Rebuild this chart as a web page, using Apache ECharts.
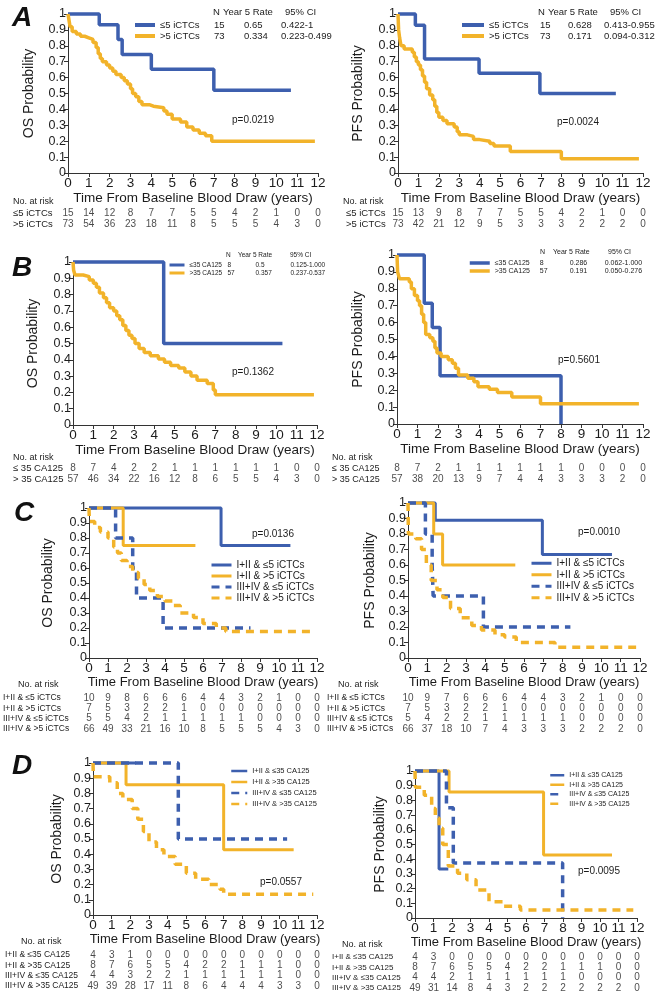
<!DOCTYPE html>
<html><head><meta charset="utf-8">
<script src="https://cdn.jsdelivr.net/npm/echarts@6/dist/echarts.min.js"></script>
<style>html,body{margin:0;padding:0;background:#fff}#c{width:655px;height:1000px}</style>
</head><body><div id="c"></div>
<script>
// ---------- DATA ----------
const riskTimes = [0,1,2,3,4,5,6,7,8,9,10,11,12];

// Panel A (iCTCs)
const osA_le5 = [[0,1],[1.5,0.933],[2.4,0.84],[2.6,0.745],[4.0,0.652],[7.0,0.52],[10.7,0.52]];
const osA_gt5 = [[0,1],[0.05,0.96],[0.1,0.92],[0.2,0.89],[0.4,0.875],[0.6,0.86],[0.8,0.85],[1.0,0.84],[1.2,0.82],[1.35,0.79],[1.45,0.75],[1.55,0.72],[1.65,0.70],[1.85,0.68],[2.0,0.66],[2.15,0.64],[2.3,0.62],[2.55,0.60],[2.7,0.58],[2.85,0.56],[3.0,0.53],[3.1,0.50],[3.25,0.48],[3.4,0.45],[3.55,0.43],[3.9,0.42],[4.1,0.41],[4.6,0.39],[4.75,0.37],[5.0,0.34],[5.4,0.32],[5.7,0.29],[6.0,0.27],[6.3,0.25],[6.6,0.235],[6.9,0.2],[11.85,0.2]];
const pfsA_le5 = [[0,1],[0.85,0.93],[1.3,0.717],[3.97,0.628],[6.95,0.5],[10.67,0.5]];
const pfsA_gt5 = [[0,1],[0.03,0.9],[0.08,0.85],[0.15,0.8],[0.3,0.78],[0.7,0.76],[0.8,0.73],[0.9,0.7],[1.0,0.68],[1.1,0.65],[1.2,0.61],[1.3,0.57],[1.4,0.53],[1.55,0.49],[1.7,0.46],[1.8,0.42],[1.9,0.38],[2.0,0.35],[2.2,0.33],[2.4,0.31],[2.75,0.29],[2.9,0.26],[3.0,0.24],[3.4,0.23],[3.7,0.21],[4.0,0.2],[4.5,0.185],[4.7,0.17],[5.5,0.135],[8.0,0.09],[11.8,0.09]];

// Panel B (CA125)
const osB_le35 = [[0,1],[4.46,0.5],[10.3,0.5]];
const osB_gt35 = [[0,1],[0.03,0.95],[0.1,0.92],[0.5,0.91],[0.8,0.89],[1.0,0.87],[1.15,0.845],[1.3,0.81],[1.5,0.78],[1.65,0.75],[1.8,0.72],[2.0,0.7],[2.15,0.67],[2.3,0.645],[2.45,0.61],[2.6,0.58],[2.75,0.55],[2.9,0.53],[3.05,0.5],[3.25,0.47],[3.5,0.445],[3.8,0.425],[4.2,0.405],[4.5,0.385],[4.8,0.365],[5.2,0.35],[5.5,0.325],[5.8,0.3],[6.1,0.275],[6.6,0.255],[6.9,0.215],[7.0,0.185],[11.85,0.185]];
const pfsB_le35 = [[0,1],[1.33,0.714],[1.72,0.571],[2.1,0.286],[8.0,0]];
const pfsB_gt35 = [[0,1],[0.03,0.9],[0.12,0.86],[0.6,0.84],[0.7,0.8],[0.85,0.76],[1.0,0.73],[1.1,0.7],[1.2,0.65],[1.3,0.6],[1.4,0.53],[1.6,0.51],[1.75,0.49],[1.85,0.45],[1.95,0.42],[2.15,0.4],[2.5,0.38],[2.7,0.36],[2.85,0.33],[3.0,0.29],[3.45,0.27],[3.75,0.25],[3.95,0.22],[4.5,0.205],[4.9,0.187],[5.6,0.16],[7.0,0.12],[11.8,0.12]];

// Panel C (stage & iCTCs)
const osC_12le = [[0,1],[6.95,0.75],[10.6,0.75]];
const osC_12gt = [[0,1],[1.8,0.75],[5.6,0.75]];
const osC_34le = [[0,1],[1.4,0.8],[2.3,0.6],[2.5,0.4],[3.9,0.2],[8.5,0.2]];
const osC_34gt = [[0,1],[0.02,0.91],[0.3,0.87],[0.6,0.84],[1.0,0.8],[1.3,0.74],[1.5,0.7],[1.7,0.65],[2.0,0.61],[2.3,0.57],[2.6,0.53],[2.9,0.49],[3.2,0.45],[3.6,0.41],[4.0,0.38],[4.4,0.35],[4.8,0.3],[5.5,0.27],[6.0,0.23],[6.7,0.2],[7.2,0.177],[11.7,0.177]];
const pfsC_12le = [[0,1],[1.41,0.889],[6.95,0.667],[10.55,0.667]];
const pfsC_12gt = [[0,1],[1.33,0.8],[1.79,0.6],[5.55,0.6]];
const pfsC_34le = [[0,1],[0.9,0.8],[1.25,0.6],[1.3,0.4],[3.9,0.2],[8.4,0.2]];
const pfsC_34gt = [[0,1],[0.02,0.8],[0.4,0.77],[0.7,0.7],[0.95,0.6],[1.2,0.5],[1.5,0.44],[1.8,0.39],[2.2,0.32],[2.7,0.26],[3.3,0.21],[3.8,0.18],[4.5,0.15],[5.0,0.135],[5.6,0.1],[7.6,0.07],[11.8,0.07]];

// Panel D (stage & CA125)
const osD_12le = [[0,1],[2.3,1]];
const osD_12gt = [[0,1],[1.77,0.857],[7.0,0.429],[10.75,0.429]];
const osD_34le = [[0,1],[4.57,0.5],[10.4,0.5]];
const osD_34gt = [[0,1],[0.02,0.91],[0.9,0.87],[1.3,0.8],[1.6,0.76],[2.1,0.7],[2.4,0.63],[2.7,0.55],[3.0,0.48],[3.4,0.43],[3.8,0.385],[4.4,0.334],[5.0,0.275],[5.5,0.235],[6.2,0.2],[6.8,0.17],[7.0,0.136],[11.8,0.136]];
const pfsD_12le = [[0,1],[1.3,0.333],[1.8,0.333]];
const pfsD_12gt = [[0,1],[1.84,0.857],[6.95,0.429],[10.65,0.429]];
const pfsD_34le = [[0,1],[1.7,0.75],[2.07,0.375],[7.98,0]];
const pfsD_34gt = [[0,1],[0.02,0.89],[0.5,0.835],[0.9,0.745],[1.1,0.68],[1.3,0.61],[1.5,0.5],[1.8,0.354],[2.3,0.305],[2.8,0.26],[3.3,0.19],[4.0,0.11],[4.8,0.08],[5.7,0.055],[11.8,0.055]];

// Numbers at risk
const riskOsA_le5 = [15,14,12,8,7,7,5,5,4,2,1,0,0];
const riskOsA_gt5 = [73,54,36,23,18,11,8,5,5,5,4,3,0];
const riskPfsA_le5 = [15,13,9,8,7,7,5,5,4,2,1,0,0];
const riskPfsA_gt5 = [73,42,21,12,9,5,3,3,3,2,2,2,0];
const riskOsB_le35 = [8,7,4,2,2,1,1,1,1,1,1,0,0];
const riskOsB_gt35 = [57,46,34,22,16,12,8,6,5,5,4,3,0];
const riskPfsB_le35 = [8,7,2,1,1,1,1,1,1,0,0,0,0];
const riskPfsB_gt35 = [57,38,20,13,9,7,4,4,3,3,3,2,0];
const riskOsC_12le = [10,9,8,6,6,6,4,4,3,2,1,0,0];
const riskOsC_12gt = [7,5,3,2,2,1,0,0,0,0,0,0,0];
const riskOsC_34le = [5,5,4,2,1,1,1,1,1,0,0,0,0];
const riskOsC_34gt = [66,49,33,21,16,10,8,5,5,5,4,3,0];
const riskPfsC_12le = [10,9,7,6,6,6,4,4,3,2,1,0,0];
const riskPfsC_12gt = [7,5,3,2,2,1,0,0,0,0,0,0,0];
const riskPfsC_34le = [5,4,2,2,1,1,1,1,1,0,0,0,0];
const riskPfsC_34gt = [66,37,18,10,7,4,3,3,3,2,2,2,0];
const riskOsD_12le = [4,3,1,0,0,0,0,0,0,0,0,0,0];
const riskOsD_12gt = [8,7,6,5,5,4,2,2,1,1,1,0,0];
const riskOsD_34le = [4,4,3,2,2,1,1,1,1,1,1,0,0];
const riskOsD_34gt = [49,39,28,17,11,8,6,4,4,4,3,3,0];
const riskPfsD_12le = [4,3,0,0,0,0,0,0,0,0,0,0,0];
const riskPfsD_12gt = [8,7,6,5,5,4,2,2,1,1,1,0,0];
const riskPfsD_34le = [4,4,2,1,1,1,1,1,1,0,0,0,0];
const riskPfsD_34gt = [49,31,14,8,4,3,2,2,2,2,2,2,0];

// Group names and summary stats
const namesA = ['≤5 iCTCs', '>5 iCTCs'];
const namesB = ['≤35 CA125', '>35 CA125'];
const riskNamesB = ['≤ 35 CA125', '> 35 CA125'];
const namesC = ['I+II & ≤5 iCTCs', 'I+II & >5 iCTCs', 'III+IV & ≤5 iCTCs', 'III+IV & >5 iCTCs'];
const namesD = ['I+II & ≤35 CA125', 'I+II & >35 CA125', 'III+IV & ≤35 CA125', 'III+IV & >35 CA125'];
const statsOsA = [['15','0.65','0.422-1'],['73','0.334','0.223-0.499']];
const statsPfsA = [['15','0.628','0.413-0.955'],['73','0.171','0.094-0.312']];
const statsOsB = [['8','0.5','0.125-1.000'],['57','0.357','0.237-0.537']];
const statsPfsB = [['8','0.286','0.062-1.000'],['57','0.191','0.050-0.276']];
const pValues = ['p=0.0219','p=0.0024','p=0.1362','p=0.5601','p=0.0136','p=0.0010','p=0.0557','p=0.0095'];
const statsHeader = ['N','Year 5 Rate','95% CI'];

// ---------- STYLE / LAYOUT ----------
const BLUE = '#3d5fae', ORANGE = '#f2b32a', INK = '#1c1c1c';
const FONT = '"Liberation Sans", Arial, sans-serif';
const XNAME = 'Time From Baseline Blood Draw (years)';

const panels = [
 {letter:'A', letterPos:[12,18], plot:[68,14,250,159], table:[208,22], rowX:13, rowFs:9.5, noRisk:[13,202], yName:'OS Probability', yGap:32, lw:3.5,
  curves:[[osA_le5,BLUE,false],[osA_gt5,ORANGE,false]], names:namesA, rows:[[namesA[0],riskOsA_le5],[namesA[1],riskOsA_gt5]],
  p:[232,120], lg:{left:133,top:19.5,iw:20,ih:8,lw:4,fs:9.5,lh:11,w:[54,30,37],stats:statsOsA,hdr:[12,213,223,285]}},
 {plot:[398,14,245,159], table:[208,22], rowX:346, rowFs:9.5, noRisk:[343,202], yName:'PFS Probability', yGap:33, lw:3.5,
  curves:[[pfsA_le5,BLUE,false],[pfsA_gt5,ORANGE,false]], names:namesA, rows:[[namesA[0],riskPfsA_le5],[namesA[1],riskPfsA_gt5]],
  p:[557,122], lg:{left:460,top:19.5,iw:22,ih:8,lw:4,fs:9.5,lh:11,w:[51,28,36],stats:statsPfsA,hdr:[12,538,548,610]}},
 {letter:'B', letterPos:[12,268], plot:[73,262,244,163], table:[463,22], rowX:13, rowFs:9.5, noRisk:[13,458], yName:'OS Probability', yGap:33, lw:3.5,
  curves:[[osB_le35,BLUE,false],[osB_gt35,ORANGE,false]], names:namesB, rows:[[riskNamesB[0],riskOsB_le35],[riskNamesB[1],riskOsB_gt35]],
  p:[232,372], lg:{left:168,top:261,iw:15,ih:5,lw:3,fs:6.5,lh:8,w:[38,28,35],stats:statsOsB,hdr:[255,226,238,290],hfs:6.5}},
 {plot:[397,255,246,169], table:[463,22], rowX:332, rowFs:9, noRisk:[332,458], yName:'PFS Probability', yGap:32, lw:3.5,
  curves:[[pfsB_le35,BLUE,false],[pfsB_gt35,ORANGE,false]], names:namesB, rows:[[riskNamesB[0],riskPfsB_le35],[riskNamesB[1],riskPfsB_gt35]],
  p:[558,360], lg:{left:468,top:259,iw:20,ih:5,lw:3.5,fs:7,lh:8,w:[45,30,35],stats:statsPfsB,hdr:[252,540,553,608],hfs:7}},
 {letter:'C', letterPos:[14,513], plot:[89,508,228,150], table:[693,41], rowX:3, rowFs:8.5, noRisk:[18,685], yName:'OS Probability', yGap:34, lw:3,
  curves:[[osC_12le,BLUE,false],[osC_12gt,ORANGE,false],[osC_34le,BLUE,true],[osC_34gt,ORANGE,true]], names:namesC,
  rows:[[namesC[0],riskOsC_12le],[namesC[1],riskOsC_12gt],[namesC[2],riskOsC_34le],[namesC[3],riskOsC_34gt]],
  p:[252,534], lg:{left:210,top:559.5,iw:20,ih:6,lw:3,fs:10,lh:11}},
 {plot:[408,503,232,155], table:[693,41], rowX:327, rowFs:8.5, noRisk:[338,685], yName:'PFS Probability', yGap:31, lw:3,
  curves:[[pfsC_12le,BLUE,false],[pfsC_12gt,ORANGE,false],[pfsC_34le,BLUE,true],[pfsC_34gt,ORANGE,true]], names:namesC,
  rows:[[namesC[0],riskPfsC_12le],[namesC[1],riskPfsC_12gt],[namesC[2],riskPfsC_34le],[namesC[3],riskPfsC_34gt]],
  p:[578,532], lg:{left:530,top:557.5,iw:20,ih:6,lw:3,fs:10,lh:11.5}},
 {letter:'D', letterPos:[12,766], plot:[93,763,224,152], table:[950,41], rowX:5, rowFs:8.5, noRisk:[21,942], yName:'OS Probability', yGap:29, lw:3,
  curves:[[osD_12le,BLUE,false],[osD_12gt,ORANGE,false],[osD_34le,BLUE,true],[osD_34gt,ORANGE,true]], names:namesD,
  rows:[[namesD[0],riskOsD_12le],[namesD[1],riskOsD_12gt],[namesD[2],riskOsD_34le],[namesD[3],riskOsD_34gt]],
  p:[260,882], lg:{left:230,top:765.5,iw:16,ih:5,lw:2.5,fs:7.5,lh:11}},
 {plot:[415,771,222,147], table:[952,41], rowX:332, rowFs:8, noRisk:[342,945], yName:'PFS Probability', yGap:28, lw:3,
  curves:[[pfsD_12le,BLUE,false],[pfsD_12gt,ORANGE,false],[pfsD_34le,BLUE,true],[pfsD_34gt,ORANGE,true]], names:namesD,
  rows:[[namesD[0],riskPfsD_12le],[namesD[1],riskPfsD_12gt],[namesD[2],riskPfsD_34le],[namesD[3],riskPfsD_34gt]],
  p:[578,871], lg:{left:549,top:770.5,iw:14,ih:5,lw:2.5,fs:7,lh:9.5}}
];

// ---------- BUILD ----------
const option = {animation:false, backgroundColor:'#fff', grid:[], xAxis:[], yAxis:[], series:[], legend:[], graphic:[]};
function txt(text, x, y, size, extra) {
  option.graphic.push(Object.assign({type:'text', x:x, y:y, silent:true,
    style:{text:text, fill:INK, fontSize:size, fontFamily:FONT, align:'left', verticalAlign:'middle'}}, extra||{}));
}
panels.forEach((p, k) => {
  const gi = option.grid.length;
  option.grid.push({left:p.plot[0], top:p.plot[1], width:p.plot[2], height:p.plot[3]});
  option.xAxis.push({gridIndex:gi, type:'value', min:0, max:12, interval:1,
    name:XNAME, nameLocation:'middle', nameGap:18,
    nameTextStyle:{fontSize:k<4?13.5:13, color:INK, fontFamily:FONT},
    axisLine:{lineStyle:{color:'#333', width:1}}, axisTick:{length:4, lineStyle:{color:'#333'}},
    axisLabel:{fontSize:13.5, color:INK, margin:3, fontFamily:FONT}, splitLine:{show:false}});
  option.yAxis.push({gridIndex:gi, type:'value', min:0, max:1, interval:0.1,
    name:p.yName, nameLocation:'middle', nameGap:p.yGap, nameRotate:90,
    nameTextStyle:{fontSize:14, color:INK, fontFamily:FONT},
    axisLine:{show:true, lineStyle:{color:'#333', width:1}}, axisTick:{show:true, length:4, lineStyle:{color:'#333'}},
    axisLabel:{fontSize:12.5, color:INK, margin:2, fontFamily:FONT}, splitLine:{show:false}});
  p.curves.forEach((c, ci) => option.series.push({type:'line', name:p.names[ci], xAxisIndex:gi, yAxisIndex:gi,
    data:c[0], step:'end', symbol:'none', showSymbol:false, clip:false, silent:true,
    lineStyle:{color:c[1], width:c[2]?3.5:p.lw, type:c[2]?[8,6]:'solid', cap:'butt'}, itemStyle:{color:c[1]}, z:c[2]?3:2}));
  // at-risk table
  const ti = option.grid.length;
  option.grid.push({left:p.plot[0], top:p.table[0], width:p.plot[2], height:p.table[1]});
  option.xAxis.push({gridIndex:ti, type:'value', min:0, max:12, show:false});
  option.yAxis.push({gridIndex:ti, type:'category', inverse:true, data:p.rows.map(r=>r[0]),
    axisLine:{show:false}, axisTick:{show:false}, splitLine:{show:false},
    axisLabel:{interval:0, hideOverlap:false, align:'left', margin:p.plot[0]-p.rowX, fontSize:p.rowFs, color:INK, fontFamily:FONT}});
  p.rows.forEach((r, ri) => option.series.push({type:'scatter', name:'risk'+k+'_'+ri, xAxisIndex:ti, yAxisIndex:ti,
    symbolSize:0, silent:true, itemStyle:{color:'transparent'},
    data:r[1].map((v,i)=>[riskTimes[i], ri, v]),
    label:{show:true, position:'inside', formatter:q=>String(q.value[2]), fontSize:10, color:INK, fontFamily:FONT}}));
  txt('No. at risk', p.noRisk[0], p.noRisk[1], 9);
  txt(pValues[k], p.p[0], p.p[1], 10);
  if (p.letter) option.graphic.push({type:'text', x:p.letterPos[0], y:p.letterPos[1], silent:true,
    style:{text:p.letter, fill:'#111', fontSize:28, fontWeight:'bold', fontStyle:'italic', fontFamily:FONT, verticalAlign:'middle'}});
  // legend
  const lg = p.lg;
  const leg = {left:lg.left, top:lg.top, orient:'vertical', padding:0, itemGap:0, itemWidth:lg.iw, itemHeight:lg.ih,
    selectedMode:false, data:p.names, lineStyle:{width:lg.lw},
    itemStyle:{opacity:0, color:'transparent', borderWidth:0},
    textStyle:{fontSize:lg.fs, lineHeight:lg.lh, color:INK, fontFamily:FONT}};
  if (lg.stats) {
    const st = lg.stats, w = lg.w;
    const base = {fontSize:lg.fs, lineHeight:lg.lh, color:INK, fontFamily:FONT};
    leg.textStyle.rich = {n:Object.assign({width:w[0]},base), a:Object.assign({width:w[1]},base), b:Object.assign({width:w[2]},base), c:base};
    leg.formatter = name => { const s = st[p.names.indexOf(name)]; return `{n|${name}}{a|${s[0]}}{b|${s[1]}}{c|${s[2]}}`; };
    const h = lg.hdr, hfs = lg.hfs || lg.fs;
    txt(statsHeader[0], h[1], h[0], hfs); txt(statsHeader[1], h[2], h[0], hfs); txt(statsHeader[2], h[3], h[0], hfs);
  }
  option.legend.push(leg);
});

const chart = echarts.init(document.getElementById('c'), null, {renderer:'canvas'});
chart.setOption(option);
</script></body></html>
